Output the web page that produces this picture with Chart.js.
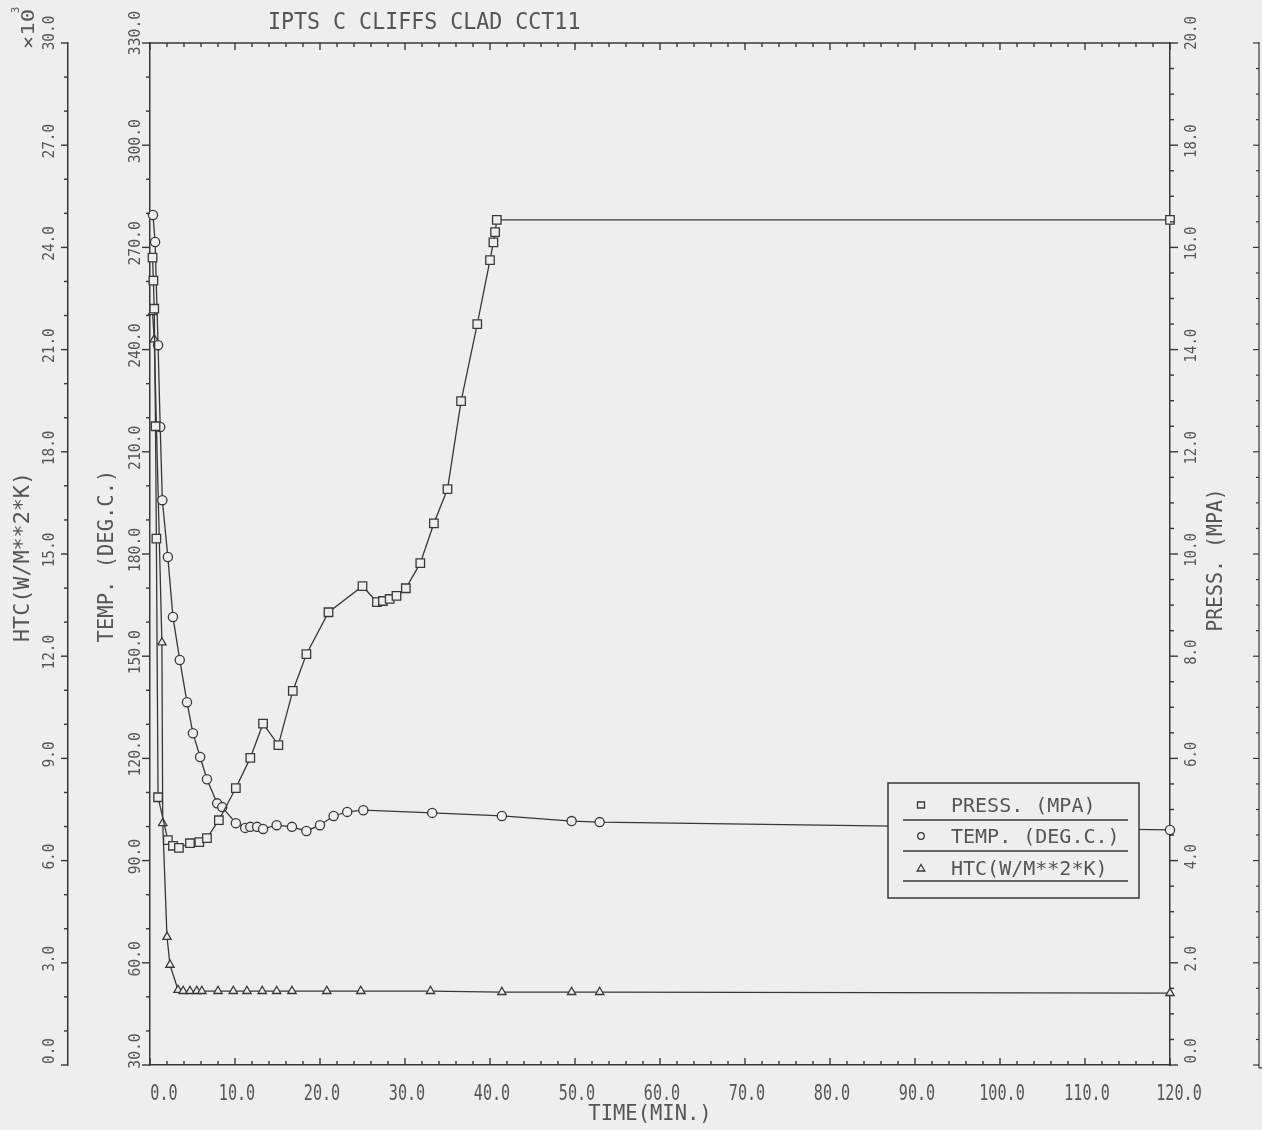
<!DOCTYPE html>
<html>
<head>
<meta charset="utf-8">
<title>IPTS C CLIFFS CLAD CCT11</title>
<script src="https://cdn.jsdelivr.net/npm/chart.js@4.4.1/dist/chart.umd.min.js"></script>
<style>
  html, body { margin: 0; padding: 0; background: #eeeeee; }
  #wrap { width: 1262px; height: 1130px; }
  canvas { display: block; }
</style>
</head>
<body>
<div id="wrap"><canvas id="chart" width="1262" height="1130"></canvas></div>
<script>
// ---- transient data (time in minutes) ----
const pressTime = [0.3, 0.4, 0.5, 0.65, 0.75, 0.95, 2.1, 2.7, 3.4, 4.7, 5.8, 6.7, 8.1, 10.1, 11.8, 13.3, 15.1, 16.8, 18.4, 21.0, 25.0, 26.7, 27.4, 28.2, 29.0, 30.1, 31.8, 33.4, 35.0, 36.6, 38.5, 40.0, 40.4, 40.6, 40.8, 120];
const pressVal  = [15.8, 15.35, 14.8, 12.5, 10.3, 5.24, 4.40, 4.29, 4.25, 4.34, 4.36, 4.44, 4.79, 5.42, 6.01, 6.68, 6.26, 7.32, 8.04, 8.86, 9.37, 9.06, 9.08, 9.12, 9.18, 9.33, 9.82, 10.6, 11.27, 12.99, 14.5, 15.75, 16.1, 16.3, 16.54, 16.54];

const tempTime = [0.35, 0.6, 0.95, 1.2, 1.45, 2.1, 2.7, 3.5, 4.35, 5.05, 5.9, 6.7, 7.9, 8.5, 10.1, 11.2, 11.8, 12.6, 13.3, 14.9, 16.7, 18.4, 20.0, 21.6, 23.2, 25.1, 33.2, 41.4, 49.6, 52.9, 120];
const tempVal  = [279.5, 271.6, 241.3, 217.3, 195.8, 179.1, 161.5, 148.9, 136.5, 127.4, 120.4, 113.9, 106.8, 105.7, 101.0, 99.6, 99.9, 99.9, 99.3, 100.4, 99.9, 98.7, 100.4, 103.1, 104.3, 104.8, 104.0, 103.1, 101.6, 101.3, 99.0];

// heat transfer coefficient, in units of 10^3 W/m^2K
const htcTime = [0.3, 0.5, 1.4, 1.5, 2.0, 2.35, 3.3, 3.9, 4.7, 5.5, 6.1, 8.0, 9.8, 11.4, 13.2, 14.9, 16.7, 20.8, 24.8, 33.0, 41.4, 49.6, 52.9, 120];
const htcVal  = [22.1, 21.3, 12.4, 7.1, 3.76, 2.94, 2.2, 2.17, 2.17, 2.17, 2.17, 2.17, 2.17, 2.17, 2.17, 2.17, 2.17, 2.17, 2.17, 2.17, 2.14, 2.14, 2.14, 2.11];

// ---- axis ticks ----
const timeTicks  = [0, 10, 20, 30, 40, 50, 60, 70, 80, 90, 100, 110, 120];
const tempTicks  = [30, 60, 90, 120, 150, 180, 210, 240, 270, 300, 330];
const htcTicks   = [0, 3, 6, 9, 12, 15, 18, 21, 24, 27, 30];
const pressTicks = [0, 2, 4, 6, 8, 10, 12, 14, 16, 18, 20];

const titleText  = 'IPTS C CLIFFS CLAD CCT11';
const timeTitle  = 'TIME(MIN.)';
const tempTitle  = 'TEMP. (DEG.C.)';
const htcTitle   = 'HTC(W/M**2*K)';
const pressTitle = 'PRESS. (MPA)';

const INK = '#383838';
const TEXT = '#555555';
const PAPER = '#eeeeee';
const FONT = '"DejaVu Sans Mono", "Liberation Mono", monospace';

const toPoints = (xs, ys) => xs.map((x, i) => ({ x: x, y: ys[i] }));
const fmt = v => v.toFixed(1);

// draws text centred (caps) on x,y, optionally rotated and horizontally scaled
function drawText(ctx, s, x, y, o) {
  ctx.save();
  ctx.translate(x, y);
  if (o.rot) ctx.rotate(o.rot);
  ctx.scale(o.sx || 1, 1);
  ctx.font = o.size + 'px ' + FONT;
  ctx.fillStyle = TEXT;
  ctx.textAlign = o.align || 'center';
  ctx.textBaseline = 'alphabetic';
  ctx.fillText(s, 0, 0.3645 * o.size);
  ctx.restore();
}

function line(ctx, x1, y1, x2, y2) {
  ctx.beginPath();
  ctx.moveTo(x1, y1);
  ctx.lineTo(x2, y2);
  ctx.stroke();
}

function drawSymbol(ctx, style, x, y) {
  ctx.beginPath();
  if (style === 'rect') {
    ctx.rect(x - 3.5, y - 3, 7, 6);
  } else if (style === 'circle') {
    ctx.arc(x, y, 3.3, 0, Math.PI * 2);
  } else {
    ctx.moveTo(x, y - 3.5);
    ctx.lineTo(x + 3.8, y + 3);
    ctx.lineTo(x - 3.8, y + 3);
    ctx.closePath();
  }
  ctx.stroke();
}

const plotterFrame = {
  id: 'plotterFrame',
  beforeDraw(chart) {
    const ctx = chart.ctx;
    ctx.save();
    ctx.fillStyle = PAPER;
    ctx.fillRect(0, 0, chart.width, chart.height);
    ctx.restore();
  },
  afterDraw(chart) {
    const ctx = chart.ctx;
    const { x, temp, htc, press } = chart.scales;
    const area = chart.chartArea;
    ctx.save();
    ctx.strokeStyle = INK;
    ctx.lineWidth = 1.4;

    // top frame line
    line(ctx, area.left, area.top, area.right, area.top);

    // time axis tick marks (bottom, inward) and matching marks on the top line
    for (let i = 0; i <= 60; i++) {
      const v = i * 2;
      const px = x.getPixelForValue(v);
      const len = (v % 10 === 0) ? 7 : 4;
      line(ctx, px, area.bottom, px, area.bottom - len);
      line(ctx, px, area.top, px, area.top + len);
    }
    // temperature axis (outward, left)
    for (let i = 0; i <= 30; i++) {
      const v = 30 + i * 10;
      const py = temp.getPixelForValue(v);
      const len = (i % 3 === 0) ? 8 : 4;
      line(ctx, temp.right, py, temp.right - len, py);
    }
    // HTC axis (outward, left)
    for (let i = 0; i <= 30; i++) {
      const py = htc.getPixelForValue(i);
      const len = (i % 3 === 0) ? 7 : 4;
      line(ctx, htc.right, py, htc.right - len, py);
    }
    // pressure axis (outward, right)
    for (let i = 0; i <= 40; i++) {
      const py = press.getPixelForValue(i * 0.5);
      const len = (i % 4 === 0) ? 8 : 4;
      line(ctx, press.left, py, press.left + len, py);
    }
    // neighbouring frame edge at the far right of the sheet
    const edgeX = chart.width - 3;
    ctx.lineWidth = 1.2;
    line(ctx, edgeX, area.top - 1, edgeX, area.bottom + 3);
    line(ctx, edgeX, area.bottom + 3, chart.width, area.bottom + 3);
    for (let i = 0; i <= 40; i++) {
      const py = press.getPixelForValue(i * 0.5);
      const len = (i % 4 === 0) ? 6 : 3;
      line(ctx, edgeX, py, edgeX - len, py);
    }

    // tick labels
    const up = -Math.PI / 2;
    const yOffset = (i, n) => (i === 0 ? -14 : (i === n - 1 ? -10 : -4));
    timeTicks.forEach((v, i) => {
      const dx = i === 0 ? 14 : (i === timeTicks.length - 1 ? 9 : 2);
      drawText(ctx, fmt(v), x.getPixelForValue(v) + dx, area.bottom + 27, { size: 21, sx: 0.72 });
    });
    tempTicks.forEach((v, i) => {
      drawText(ctx, fmt(v), temp.right - 16, temp.getPixelForValue(v) + yOffset(i, tempTicks.length), { size: 16, sx: 0.92, rot: up });
    });
    htcTicks.forEach((v, i) => {
      drawText(ctx, fmt(v), htc.right - 20, htc.getPixelForValue(v) + yOffset(i, htcTicks.length), { size: 16, sx: 0.9, rot: up });
    });
    pressTicks.forEach((v, i) => {
      drawText(ctx, fmt(v), press.left + 20, press.getPixelForValue(v) + yOffset(i, pressTicks.length), { size: 15.5, sx: 0.9, rot: up });
    });

    // titles
    const midY = (area.top + area.bottom) / 2;
    drawText(ctx, titleText, 268, 21, { size: 23, sx: 0.94, align: 'left' });
    drawText(ctx, timeTitle, 650, 1113, { size: 20.5, sx: 1.0 });
    drawText(ctx, htcTitle, 22, midY + 3, { size: 20.5, sx: 1.06, rot: up });
    drawText(ctx, tempTitle, 106, midY + 2, { size: 20.5, sx: 1.0, rot: up });
    drawText(ctx, pressTitle, 1215, midY + 6, { size: 20.5, sx: 0.97, rot: up });
    drawText(ctx, '\u00d710', 27, 29, { size: 18, sx: 1.25, rot: up });
    drawText(ctx, '3', 15, 10, { size: 11, sx: 1.0, rot: up });

    // legend
    const box = { l: 888, t: 783, r: 1139, b: 898 };
    ctx.fillStyle = PAPER;
    ctx.fillRect(box.l, box.t, box.r - box.l, box.b - box.t);
    ctx.lineWidth = 1.5;
    ctx.strokeRect(box.l, box.t, box.r - box.l, box.b - box.t);
    const rowY = [805, 836, 868];
    const ruleY = [820, 851, 881];
    chart.data.datasets.forEach((ds, i) => {
      ctx.lineWidth = 1.3;
      drawSymbol(ctx, ds.pointStyle, 921, rowY[i]);
      drawText(ctx, ds.label, 951, rowY[i], { size: 20, sx: 1.0, align: 'left' });
      ctx.lineWidth = 1.5;
      line(ctx, 903, ruleY[i], 1128, ruleY[i]);
    });
    ctx.restore();
  }
};

const common = {
  borderColor: INK,
  borderWidth: 1.3,
  pointBorderColor: INK,
  pointBackgroundColor: PAPER,
  pointBorderWidth: 1.3,
  pointHoverRadius: 5,
  tension: 0,
  fill: false,
  clip: false
};

const axisBorder = { display: true, color: INK, width: 1.5 };

new Chart(document.getElementById('chart'), {
  type: 'line',
  data: {
    datasets: [
      Object.assign({ label: pressTitle, data: toPoints(pressTime, pressVal), yAxisID: 'press', pointStyle: 'rect', pointRadius: 6 }, common),
      Object.assign({ label: tempTitle, data: toPoints(tempTime, tempVal), yAxisID: 'temp', pointStyle: 'circle', pointRadius: 4.6 }, common),
      Object.assign({ label: htcTitle, data: toPoints(htcTime, htcVal), yAxisID: 'htc', pointStyle: 'triangle', pointRadius: 4.8 }, common)
    ]
  },
  options: {
    responsive: false,
    animation: false,
    events: [],
    layout: { padding: { top: 43, left: 0, right: 0, bottom: 0 } },
    plugins: { legend: { display: false }, tooltip: { enabled: false }, title: { display: false } },
    scales: {
      x: {
        type: 'linear', position: 'bottom', min: 0, max: 120,
        ticks: { display: false, stepSize: 10 },
        grid: { display: false, drawTicks: false },
        border: axisBorder,
        afterFit(s) { s.height = 65; }
      },
      temp: {
        type: 'linear', position: 'left', weight: 0, min: 30, max: 330,
        ticks: { display: false, stepSize: 30 },
        grid: { display: false, drawTicks: false },
        border: axisBorder,
        afterFit(s) { s.width = 82; }
      },
      htc: {
        type: 'linear', position: 'left', weight: 1, min: 0, max: 30,
        ticks: { display: false, stepSize: 3 },
        grid: { display: false, drawTicks: false },
        border: axisBorder,
        afterFit(s) { s.width = 68; }
      },
      press: {
        type: 'linear', position: 'right', min: 0, max: 20,
        ticks: { display: false, stepSize: 2 },
        grid: { display: false, drawTicks: false },
        border: axisBorder,
        afterFit(s) { s.width = 92; }
      }
    }
  },
  plugins: [plotterFrame]
});
</script>
</body>
</html>
